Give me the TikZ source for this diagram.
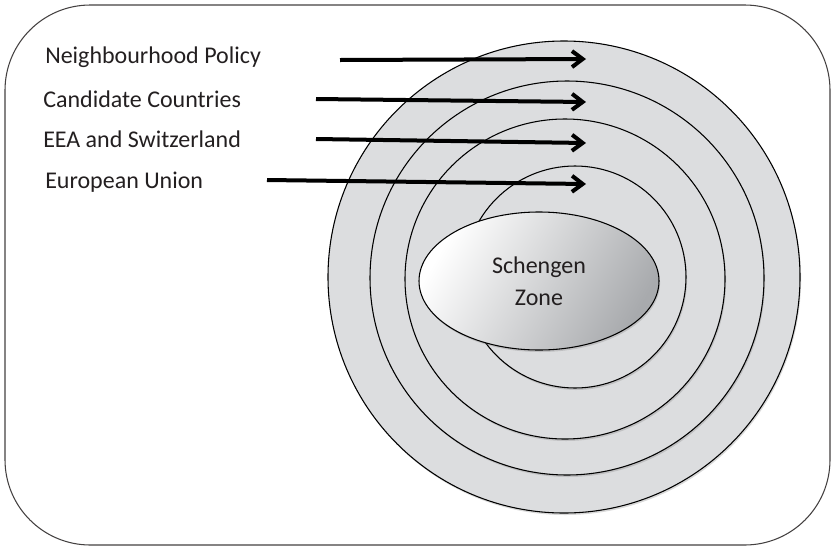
\documentclass[tikz,border=0pt]{standalone}
\usepackage{fontspec}
\setmainfont{Carlito}
\usepackage{xcolor}
\usepackage{tikz}
\usetikzlibrary{shapes.geometric,arrows.meta,shadows}
\definecolor{rgray}{HTML}{DCDDDF}
\definecolor{zgray}{HTML}{A8AAAD}
\definecolor{ink}{HTML}{231F20}
\tikzstyle{ring} = [circle, draw, line width=0.8pt, fill=rgray, inner sep=0pt,
    drop shadow={shadow xshift=0.8pt, shadow yshift=-1.5pt, opacity=0.3}]
\tikzstyle{zone} = [ellipse, draw, line width=0.8pt, inner sep=0pt, align=center,
    left color=white, right color=zgray, shading angle=60, text=ink,
    font=\fontsize{18}{24}\selectfont,
    drop shadow={shadow xshift=0.8pt, shadow yshift=-1.5pt, opacity=0.3}]
\tikzstyle{label} = [anchor=base west, inner sep=0pt, text=ink, font=\fontsize{18}{22}\selectfont]
\tikzstyle{arrow} = [draw, line width=3pt, -{Straight Barb[length=8pt, width=12pt]}]

\begin{document}
\begin{tikzpicture}[x=0.75pt, y=-0.75pt]
    \useasboundingbox (0,0) rectangle (832,547);
    % frame
    \draw[line width=0.8pt, draw=ink!85, rounded corners=64pt] (5,5) rectangle (830,545);

    % rings
    \node[ring, minimum size=354pt] at (564, 277) (np) {};
    \node[ring, minimum size=295.5pt] at (567, 278) (cc) {};
    \node[ring, minimum size=240pt] at (565, 279) (eea) {};
    \node[ring, minimum size=166.5pt] at (575, 277) (eu) {};
    \node[zone, minimum width=180pt, minimum height=103.5pt] at (539, 281) (schengen) {Schengen\\Zone};

    % labels
    \node[label] at (45, 63) (lnp) {Neighbourhood Policy};
    \node[label] at (43, 107) (lcc) {Candidate Countries};
    \node[label] at (43, 147) (leea) {EEA and Switzerland};
    \node[label] at (45, 188) (leu) {European Union};

    % arrow ends
    \coordinate (snp) at (340, 60);
    \coordinate (tnp) at (586, 59);
    \coordinate (scc) at (316, 99);
    \coordinate (tcc) at (586, 102);
    \coordinate (seea) at (316, 139);
    \coordinate (teea) at (586, 143);
    \coordinate (seu) at (267, 180);
    \coordinate (teu) at (586, 184);

    % arrows
    \path[arrow] (snp) -- (tnp);
    \path[arrow] (scc) -- (tcc);
    \path[arrow] (seea) -- (teea);
    \path[arrow] (seu) -- (teu);
\end{tikzpicture}
\end{document}
